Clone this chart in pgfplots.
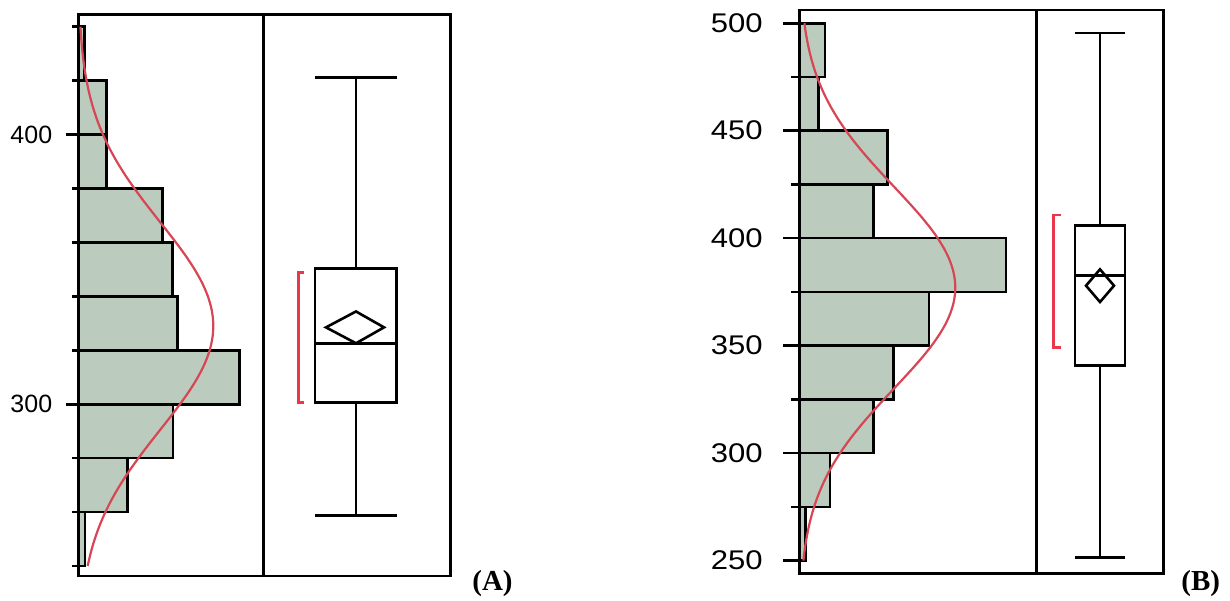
\documentclass[border=0pt]{standalone}
\usepackage{fontspec}
\setmainfont{Liberation Sans}
\newfontfamily\serifbf{Liberation Serif}
\newfontfamily\stretchsans[FakeStretch=1.15]{Liberation Sans}
\usepackage{pgfplots}
\usepgfplotslibrary{statistics}
\pgfplotsset{compat=1.18}
\definecolor{barfill}{RGB}{187,203,189}
\definecolor{curvecol}{RGB}{215,70,85}
\definecolor{brackcol}{RGB}{235,55,75}
\pgfplotsset{
  framestyle/.style={scale only axis, anchor=south west,
    axis line style={line width=2.6pt, black},
    tick style={line width=2.6pt, black},
    xtick=\empty, clip=false,
    /pgf/number format/assume math mode=true,
    tick align=outside, ytick pos=left, yticklabel pos=left,
    boxplot/draw direction=y,
    boxplot/every whisker/.style={line width=2.6pt, black},
    boxplot/every box/.style={line width=2.6pt, black},
    boxplot/every median/.style={line width=2.6pt, black}}
}
\begin{document}
\begin{tikzpicture}
\path[use as bounding box] (0,0) rectangle (1230pt,600pt);
% ---------- Panel A histogram ----------
\begin{axis}[framestyle, at={(78.3pt,24pt)}, width=185pt, height=561.7pt,
  xmin=0, xmax=185, ymin=236.3, ymax=444.6,
  ytick={300,400}, minor ytick={240,260,280,320,340,360,380,420,440},
  major tick length=12.6pt, minor tick length=6pt,
  yticklabel style={font=\fontsize{25}{25}\selectfont, xshift=-10pt}]
\addplot[xbar, bar width=20, bar shift=0pt, fill=barfill, draw=black, line width=2.6pt, line join=miter]
  coordinates {(6.7,250) (49.4,270) (94.7,290) (161,310) (99,330) (94.4,350) (84,370) (28.4,390) (28.4,410) (6,430)};
\addplot[curvecol, line width=2.2pt, smooth] table {
x y
9.33 240
12.50 245
16.45 250
21.29 255
27.09 260
33.90 265
41.73 270
50.48 275
60.06 280
70.25 285
80.81 290
91.41 295
101.66 300
111.16 305
119.52 310
126.36 315
131.37 320
134.27 325
134.95 330
133.37 335
129.60 340
123.82 345
116.33 350
107.47 355
97.63 360
87.18 365
76.57 370
66.12 375
56.15 380
46.87 385
38.48 390
31.06 395
24.65 400
19.24 405
14.77 410
11.14 415
8.26 420
6.03 425
4.32 430
3.05 435
2.12 440
};
\end{axis}
% ---------- Panel A box plot ----------
\begin{axis}[framestyle, at={(263.3pt,24pt)}, width=187.4pt, height=561.7pt,
  xmin=263.3, xmax=450.7, ymin=236.3, ymax=444.6, ytick=\empty]
\addplot[black, line width=2.6pt, boxplot prepared={draw position=355.8, median=322.5,
  upper quartile=350.3, lower quartile=300.7, upper whisker=421.1, lower whisker=258.7,
  box extend=81.7, whisker extend=81.7}] coordinates {};
\addplot[black, line width=2.6pt] coordinates {(355.8,350.3) (355.8,421.1)};
\addplot[black, line width=2.6pt] coordinates {(355.8,300.7) (355.8,258.7)};
\addplot[black, line width=2.6pt] coordinates {(314.95,421.1) (396.65,421.1)};
\addplot[black, line width=2.6pt] coordinates {(314.95,258.7) (396.65,258.7)};
\addplot[black, line width=2.6pt, line join=miter] coordinates {(326,328.5) (356,334.4) (384,328.5) (356,322.6)} -- cycle;
\addplot[brackcol, line width=2.4pt] coordinates {(304,348.8) (298.3,348.8) (298.3,300.7) (304,300.7)};
\end{axis}
% ---------- Panel B histogram ----------
\begin{axis}[framestyle, at={(799.3pt,26.7pt)}, width=237.4pt, height=563.3pt,
  xmin=0, xmax=237.4, ymin=244.1, ymax=506.15,
  ytick={250,300,...,500}, minor ytick={275,325,...,475},
  major tick length=16pt, minor tick length=8pt,
  yticklabel style={font=\stretchsans\fontsize{27}{27}\selectfont, xshift=-17pt}]
\addplot[xbar, bar width=25, bar shift=0pt, fill=barfill, draw=black, line width=2.6pt, line join=miter]
  coordinates {(6,262.5) (30.7,287.5) (74.4,312.5) (94,337.5) (129.7,362.5) (206.7,387.5) (74.4,412.5) (88.4,437.5) (19,462.5) (25.7,487.5)};
\addplot[curvecol, line width=2.2pt, smooth] table {
x y
4.05 250
5.37 255
7.04 260
9.12 265
11.69 270
14.80 275
18.54 280
22.97 285
28.13 290
34.05 295
40.76 300
48.25 305
56.47 310
65.35 315
74.77 320
84.60 325
94.62 330
104.64 335
114.43 340
123.72 345
132.27 350
139.81 355
146.13 360
150.99 365
154.28 370
155.86 375
155.69 380
153.75 385
150.15 390
144.97 395
138.40 400
130.63 405
121.91 410
112.51 415
102.65 420
92.60 425
82.60 430
72.85 435
63.52 440
54.77 445
46.69 450
39.36 455
32.81 460
27.03 465
22.03 470
17.74 475
14.13 480
11.14 485
8.67 490
6.68 495
5.08 500
};
\end{axis}
% ---------- Panel B box plot ----------
\begin{axis}[framestyle, at={(1036.7pt,26.7pt)}, width=126.6pt, height=563.3pt,
  xmin=1036.7, xmax=1163.3, ymin=244.1, ymax=506.15, ytick=\empty]
\addplot[black, line width=2.6pt, boxplot prepared={draw position=1100, median=382.6,
  upper quartile=405.8, lower quartile=340.7, upper whisker=495.4, lower whisker=251.4,
  box extend=50, whisker extend=49.3}] coordinates {};
\addplot[black, line width=2.6pt] coordinates {(1100,405.8) (1100,495.4)};
\addplot[black, line width=2.6pt] coordinates {(1100,340.7) (1100,251.4)};
\addplot[black, line width=2.6pt] coordinates {(1075.35,495.4) (1124.65,495.4)};
\addplot[black, line width=2.6pt] coordinates {(1075.35,251.4) (1124.65,251.4)};
\addplot[black, line width=2.6pt, line join=miter] coordinates {(1086,377.9) (1100,385.5) (1114,377.9) (1100,370.3)} -- cycle;
\addplot[brackcol, line width=2.4pt] coordinates {(1060.7,410.8) (1053.3,410.8) (1053.3,349.1) (1060.7,349.1)};
\end{axis}
% ---------- panel labels ----------
\node[font=\serifbf\bfseries\fontsize{29}{29}\selectfont] at (492.5pt,16pt) {(A)};
\node[font=\serifbf\bfseries\fontsize{29}{29}\selectfont] at (1200.8pt,16pt) {(B)};
\end{tikzpicture}
\end{document}
